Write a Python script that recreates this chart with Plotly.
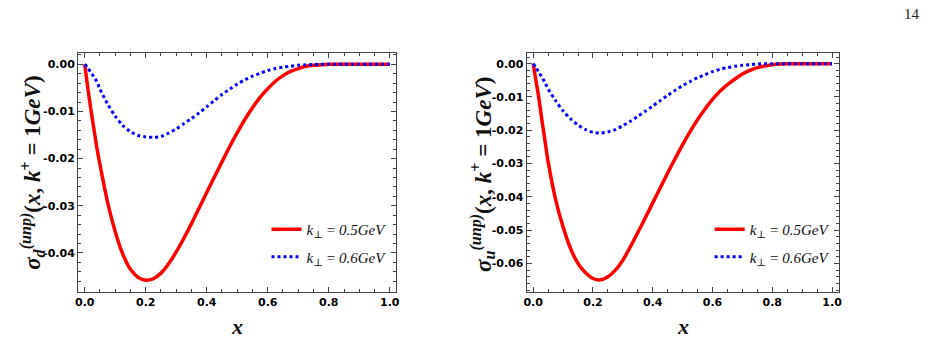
import plotly.graph_objects as go

# ---------------- data ----------------
x_grid = [0.0, 0.01, 0.02, 0.03, 0.04, 0.05, 0.075, 0.1, 0.125, 0.15, 0.175, 0.2,
          0.225, 0.25, 0.275, 0.3, 0.325, 0.35, 0.375, 0.4, 0.425, 0.45, 0.475, 0.5,
          0.525, 0.55, 0.575, 0.6, 0.625, 0.65, 0.675, 0.7, 0.725, 0.75, 0.775, 0.8,
          0.825, 0.85, 0.875, 0.9, 0.925, 0.95, 0.975, 1.0]

d_k05 = [0.0, -0.0050, -0.0095, -0.0137, -0.0178, -0.0213, -0.0293, -0.0355, -0.0403,
         -0.0435, -0.0452, -0.0458, -0.0455, -0.0443, -0.0423, -0.0398, -0.0369,
         -0.0338, -0.0305, -0.0272, -0.0239, -0.0207, -0.0175, -0.0145, -0.0117,
         -0.0092, -0.0070, -0.0052, -0.0036, -0.0024, -0.0015, -0.0009, -0.0004,
         -0.0002, -0.0001, 0.0, 0.0, 0.0, 0.0, 0.0, 0.0, 0.0, 0.0, 0.0]
d_k06 = [0.0, -0.0008, -0.0017, -0.0027, -0.0037, -0.0053, -0.0084, -0.0110, -0.0130,
         -0.0143, -0.0151, -0.0154, -0.0155, -0.0153, -0.0146, -0.0137, -0.0126,
         -0.0115, -0.0103, -0.0090, -0.0077, -0.0064, -0.0053, -0.0042, -0.0033,
         -0.0025, -0.0019, -0.0013, -0.0009, -0.0006, -0.0004, -0.0002, -0.0001,
         -0.00005, 0.0, 0.0, 0.0, 0.0, 0.0, 0.0, 0.0, 0.0, 0.0, 0.0]

u_k05 = [0.0, -0.0055, -0.0110, -0.0175, -0.0235, -0.0295, -0.0408, -0.0490, -0.0555,
         -0.0600, -0.0628, -0.0645, -0.0649, -0.0640, -0.0620, -0.0590, -0.0550,
         -0.0507, -0.0463, -0.0418, -0.0373, -0.0328, -0.0285, -0.0243, -0.0204,
         -0.0168, -0.0136, -0.0107, -0.0083, -0.0063, -0.0046, -0.0031, -0.0020,
         -0.0012, -0.0007, -0.0003, -0.0001, 0.0, 0.0, 0.0, 0.0, 0.0, 0.0, 0.0]
u_k06 = [0.0, -0.0013, -0.0027, -0.0042, -0.0058, -0.0076, -0.0111, -0.0142, -0.0166,
         -0.0184, -0.0198, -0.0206, -0.0208, -0.0205, -0.0198, -0.0186, -0.0173,
         -0.0158, -0.0143, -0.0127, -0.0111, -0.0095, -0.0080, -0.0066, -0.0054,
         -0.0042, -0.0033, -0.0024, -0.0017, -0.0012, -0.0008, -0.0005, -0.0003,
         -0.0001, 0.0, 0.0, 0.0, 0.0, 0.0, 0.0, 0.0, 0.0, 0.0, 0.0]

legend_labels = ["<i>k</i><sub>⊥</sub> = <i>0.5GeV</i>", "<i>k</i><sub>⊥</sub> = <i>0.6GeV</i>"]
x_ticks = [0.0, 0.2, 0.4, 0.6, 0.8, 1.0]
x_ticktext = ["0.0", "0.2", "0.4", "0.6", "0.8", "1.0"]
yd_ticks = [0.0, -0.01, -0.02, -0.03, -0.04]
yd_ticktext = ["0.00", "-0.01", "-0.02", "-0.03", "-0.04"]
yu_ticks = [0.0, -0.01, -0.02, -0.03, -0.04, -0.05, -0.06]
yu_ticktext = ["0.00", "-0.01", "-0.02", "-0.03", "-0.04", "-0.05", "-0.06"]
ytitle_d = "<b><i>σ</i></b><sub><b><i>d</i></b></sub><sup><b><i>(unp)</i></b></sup><b>(<i>x</i>, <i>k</i><sup>+</sup> = 1<i>GeV</i>)</b>"
ytitle_u = "<b><i>σ</i></b><sub><b><i>u</i></b></sub><sup><b><i>(unp)</i></b></sup><b>(<i>x</i>, <i>k</i><sup>+</sup> = 1<i>GeV</i>)</b>"

# ---------------- figure ----------------
W, H = 939, 339
RED, BLUE = "#ff0000", "#0000ff"
FRAME = "#444444"
SERIF = "Liberation Serif, DejaVu Serif, serif"
SANS = "DejaVu Sans, Liberation Sans, sans-serif"

def bold(labels):
    return ["<b>" + t + "</b>" for t in labels]

fig = go.Figure()
fig.add_trace(go.Scatter(x=x_grid, y=d_k05, mode="lines", name=legend_labels[0],
                         line=dict(color=RED, width=3.5, shape="spline", smoothing=0.8),
                         xaxis="x", yaxis="y", legend="legend", legendgroup="a"))
fig.add_trace(go.Scatter(x=x_grid, y=d_k06, mode="lines", name=legend_labels[1],
                         line=dict(color=BLUE, width=3, dash="dot", shape="spline", smoothing=0.8),
                         xaxis="x", yaxis="y", legend="legend", legendgroup="b"))
fig.add_trace(go.Scatter(x=x_grid, y=u_k05, mode="lines", name=legend_labels[0],
                         line=dict(color=RED, width=3.5, shape="spline", smoothing=0.8),
                         xaxis="x2", yaxis="y2", legend="legend2", legendgroup="c"))
fig.add_trace(go.Scatter(x=x_grid, y=u_k06, mode="lines", name=legend_labels[1],
                         line=dict(color=BLUE, width=3, dash="dot", shape="spline", smoothing=0.8),
                         xaxis="x2", yaxis="y2", legend="legend2", legendgroup="d"))

TICKFONT = dict(family=SANS, size=11, color="#000000")

def xaxis(domain, anchor):
    return dict(domain=domain, anchor=anchor, range=[-0.022, 1.022],
                tickvals=x_ticks, ticktext=bold(x_ticktext),
                ticks="inside", ticklen=5, tickwidth=1, tickcolor=FRAME,
                minor=dict(dtick=0.05, tick0=0, ticks="inside", ticklen=3, tickwidth=1, tickcolor=FRAME),
                showline=True, linecolor=FRAME, linewidth=1, mirror="ticks",
                showgrid=False, zeroline=False, tickfont=TICKFONT, fixedrange=True)

def yaxis(domain, anchor, rng, tv, tt):
    return dict(domain=domain, anchor=anchor, range=rng,
                tickvals=tv, ticktext=bold(tt),
                ticks="inside", ticklen=5, tickwidth=1, tickcolor=FRAME,
                minor=dict(dtick=0.002, tick0=0, ticks="inside", ticklen=3, tickwidth=1, tickcolor=FRAME),
                showline=True, linecolor=FRAME, linewidth=1, mirror="ticks",
                showgrid=False, zeroline=False, tickfont=TICKFONT, fixedrange=True)

y_dom = [47.5 / H, 286 / H]
LEGFONT = dict(family=SERIF, size=15, color="#111111")
fig.update_layout(
    width=W, height=H,
    margin=dict(l=0, r=0, t=0, b=0),
    paper_bgcolor="white", plot_bgcolor="white",
    xaxis=xaxis([75.5 / W, 396 / W], "y"),
    yaxis=yaxis(y_dom, "x", [-0.0482, 0.0024], yd_ticks, yd_ticktext),
    xaxis2=xaxis([527 / W, 841 / W], "y2"),
    yaxis2=yaxis(y_dom, "x2", [-0.0684, 0.0032], yu_ticks, yu_ticktext),
    legend=dict(x=391 / W, y=(H - 213) / H, xanchor="right", yanchor="top",
                bgcolor="rgba(0,0,0,0)", font=LEGFONT,
                traceorder="grouped", tracegroupgap=5, itemwidth=30),
    legend2=dict(x=837 / W, y=(H - 213) / H, xanchor="right", yanchor="top",
                 bgcolor="rgba(0,0,0,0)", font=LEGFONT,
                 traceorder="grouped", tracegroupgap=5, itemwidth=30),
    showlegend=True,
    annotations=[
        dict(text=ytitle_d, x=29 / W, y=(H - 173) / H, xref="paper", yref="paper",
             textangle=-90, showarrow=False, xanchor="center", yanchor="middle",
             font=dict(family=SERIF, size=23, color="#111111")),
        dict(text=ytitle_u, x=482 / W, y=(H - 174) / H, xref="paper", yref="paper",
             textangle=-90, showarrow=False, xanchor="center", yanchor="middle",
             font=dict(family=SERIF, size=23, color="#111111")),
        dict(text="<b><i>x</i></b>", x=236 / W, y=(H - 326) / H, xref="paper", yref="paper",
             showarrow=False, xanchor="center", yanchor="middle",
             font=dict(family=SERIF, size=22, color="#111111")),
        dict(text="<b><i>x</i></b>", x=684 / W, y=(H - 326) / H, xref="paper", yref="paper",
             showarrow=False, xanchor="center", yanchor="middle",
             font=dict(family=SERIF, size=22, color="#111111")),
        dict(text="14", x=915 / W, y=(H - 14) / H, xref="paper", yref="paper",
             showarrow=False, xanchor="center", yanchor="middle",
             font=dict(family=SERIF, size=15, color="#222222")),
    ],
)

fig.write_html("out.html", config={"displayModeBar": False})
